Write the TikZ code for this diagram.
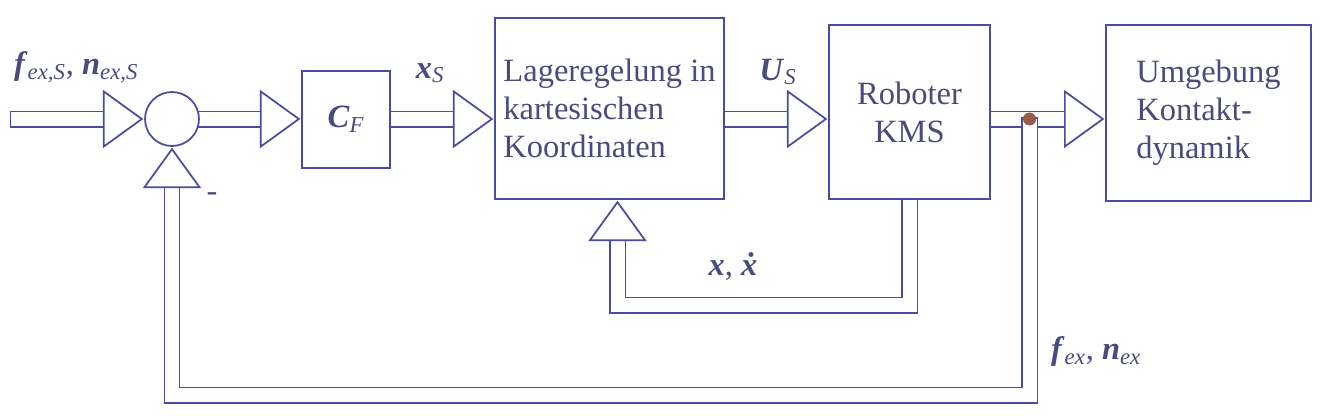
\documentclass[tikz,border=0pt]{standalone}
\usepackage{fontspec}
\setmainfont{Liberation Serif}
\newfontfamily\timesfont{Liberation Serif}
\usetikzlibrary{shapes.geometric,backgrounds}
\definecolor{linecol}{HTML}{4B4BA0}
\definecolor{textcol}{HTML}{4A4A7E}
\definecolor{dotcol}{HTML}{9A5A48}
\newcommand{\bv}[2]{\textbf{\textit{#1}}\textsubscript{\textit{#2}}}

\begin{document}
\begin{tikzpicture}[x=0.02cm, y=-0.02cm,
    font=\timesfont\fontsize{18.5}{21.5}\selectfont, text=textcol,
    block/.style={draw=linecol, line width=0.035cm, fill=white, align=center, inner sep=0pt},
    summer/.style={circle, draw=linecol, line width=0.035cm, fill=white, minimum size=1.08cm, inner sep=0pt},
    head/.style={isosceles triangle, isosceles triangle stretches, draw=linecol, line width=0.035cm, fill=white, minimum width=1.1cm, minimum height=0.76cm, inner sep=0pt, anchor=apex},
    band/.style={draw=linecol, line width=0.03cm, double=white, double distance=0.28cm, line cap=rect},
    tapdot/.style={circle, fill=dotcol, minimum size=0.26cm, inner sep=0pt}
]
\useasboundingbox (0,0) rectangle (1323,416);

% blocks
\node[summer] (sum) at (172,119) {};
\node[block, minimum width=1.76cm, minimum height=1.94cm] (cf) at (346,119.5) {\bv{C}{F}};
\node[block, minimum width=4.58cm, minimum height=3.62cm, align=left] (lage) at (609.5,108.5) {Lageregelung in\\kartesischen\\Koordinaten};
\node[block, minimum width=3.22cm, minimum height=3.48cm] (robot) at (909.5,112) {Roboter\\KMS};
\node[block, minimum width=4.1cm, minimum height=3.52cm, align=left] (umgebung) at (1208.5,113) {Umgebung\\Kontakt-\\dynamik};

% arrow heads
\node[head] (h0) at (sum.west) {};
\node[head] (h1) at (cf.west |- sum) {};
\node[head] (h2) at (lage.west |- sum) {};
\node[head] (h3) at (robot.west |- sum) {};
\node[head] (h4) at (umgebung.west |- sum) {};
\node[head, shape border rotate=90] (h5) at ([xshift=0.16cm]lage.south) {};
\node[head, shape border rotate=90] (h6) at (sum.south) {};

\node[tapdot] (tap) at (1029.5,119) {};
\coordinate (start) at (18,119);
\coordinate (loopA) at (0,305);
\coordinate (loopB) at (0,395);

% labels
\node[anchor=west] (lin) at (8,67) {\bv{f}{ex,S}, \bv{n}{ex,S}};
\node (lxs) at (430,73) {\bv{x}{S}};
\node (lus) at (778,72) {\bv{U}{S}};
\node (lxx) at (733,267) {\textbf{\textit{x}}, \textbf{\textit{\.x}}};
\node (lminus) at (212,197) {-};
\node[anchor=west] (lfn) at (1045,352) {\bv{f}{ex}, \bv{n}{ex}};

\begin{scope}[on background layer]
\draw[band] (start) -- (h0.lower side);
\foreach \from/\to in {sum/h1,cf/h2,lage/h3,robot/h4}
    \draw[band] (\from.east |- \to.lower side) -- (\to.lower side);
\draw[band] (robot.south) -- (robot.south |- loopA) -| (h5.lower side);
\draw[band] (tap) -- (tap |- loopB) -| (h6.lower side);
\end{scope}
\end{tikzpicture}
\end{document}
